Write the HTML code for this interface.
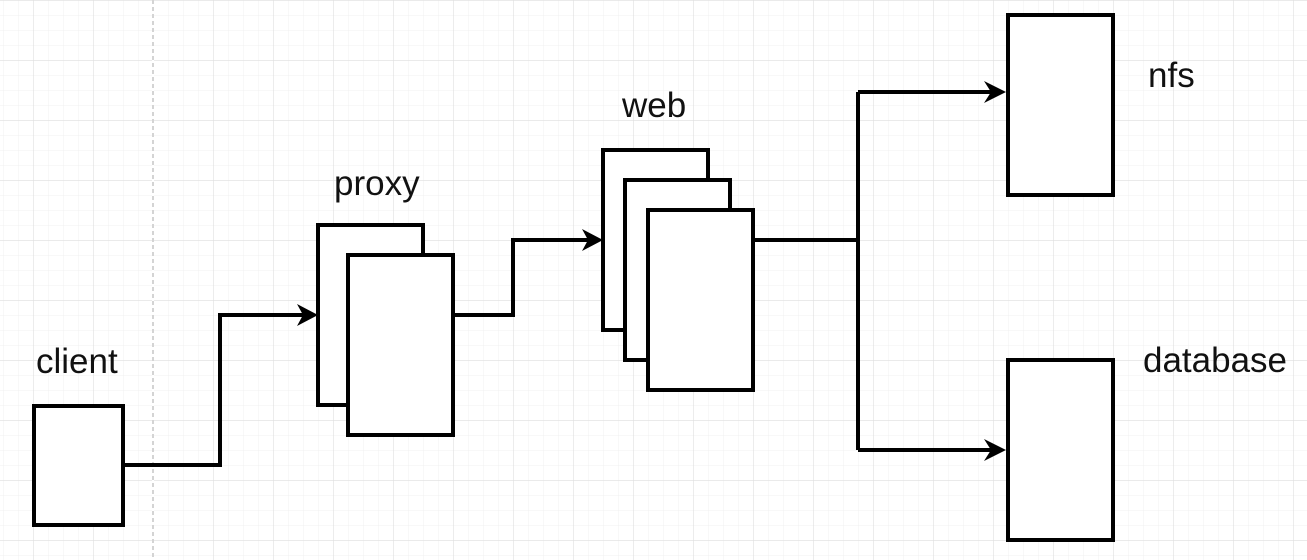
<!DOCTYPE html>
<html><head><meta charset="utf-8"><style>
html,body{margin:0;padding:0;background:#fff;}
svg{display:block;}
text{font-family:"Liberation Sans",Arial,sans-serif;font-size:35px;fill:#111;}
</style></head><body>
<svg width="1307" height="560" viewBox="0 0 1307 560" xmlns="http://www.w3.org/2000/svg">
<defs>
<pattern id="minor" x="3" y="0" width="15" height="15" patternUnits="userSpaceOnUse">
<path d="M0 0V15M0 0H15" stroke="#f1f1f1" stroke-width="1" fill="none"/>
</pattern>
<pattern id="major" x="33" y="0" width="60" height="60" patternUnits="userSpaceOnUse">
<path d="M0 0V60M0 0H60" stroke="#dedede" stroke-width="1.2" fill="none"/>
</pattern>
</defs>
<rect width="1307" height="560" fill="url(#minor)"/>
<rect width="1307" height="560" fill="url(#major)"/>
<line x1="153" y1="0" x2="153" y2="560" stroke="#fff" stroke-width="2"/>
<line x1="153" y1="0" x2="153" y2="560" stroke="#aaa" stroke-width="1" stroke-dasharray="4,3"/>
<g fill="#fff" stroke="#000" stroke-width="4">
<rect x="34" y="406" width="89" height="119"/>
<rect x="318" y="225" width="105" height="180"/>
<rect x="348" y="255" width="105" height="180"/>
<rect x="603" y="150" width="105" height="180"/>
<rect x="625" y="180" width="105" height="180"/>
<rect x="648" y="210" width="105" height="180"/>
<rect x="1008" y="15" width="105" height="180"/>
<rect x="1008" y="360" width="105" height="180"/>
</g>
<g fill="none" stroke="#000" stroke-width="4">
<path d="M123 465H220V315H305"/>
<path d="M453 315H513V240H590"/>
<path d="M753 240H858M858 92V450M858 92H995M858 450H995"/>
</g>
<g fill="#000">
<path d="M318 315L297 304L303 315L297 326Z"/>
<path d="M603 240L582 229L588 240L582 251Z"/>
<path d="M1006 92L984 81L991 92L984 103Z"/>
<path d="M1006 450L984 439L991 450L984 461Z"/>
</g>
<text x="36" y="373">client</text>
<text x="334" y="195">proxy</text>
<text x="622" y="117">web</text>
<text x="1148" y="87">nfs</text>
<text x="1143" y="372">database</text>
</svg>
</body></html>
